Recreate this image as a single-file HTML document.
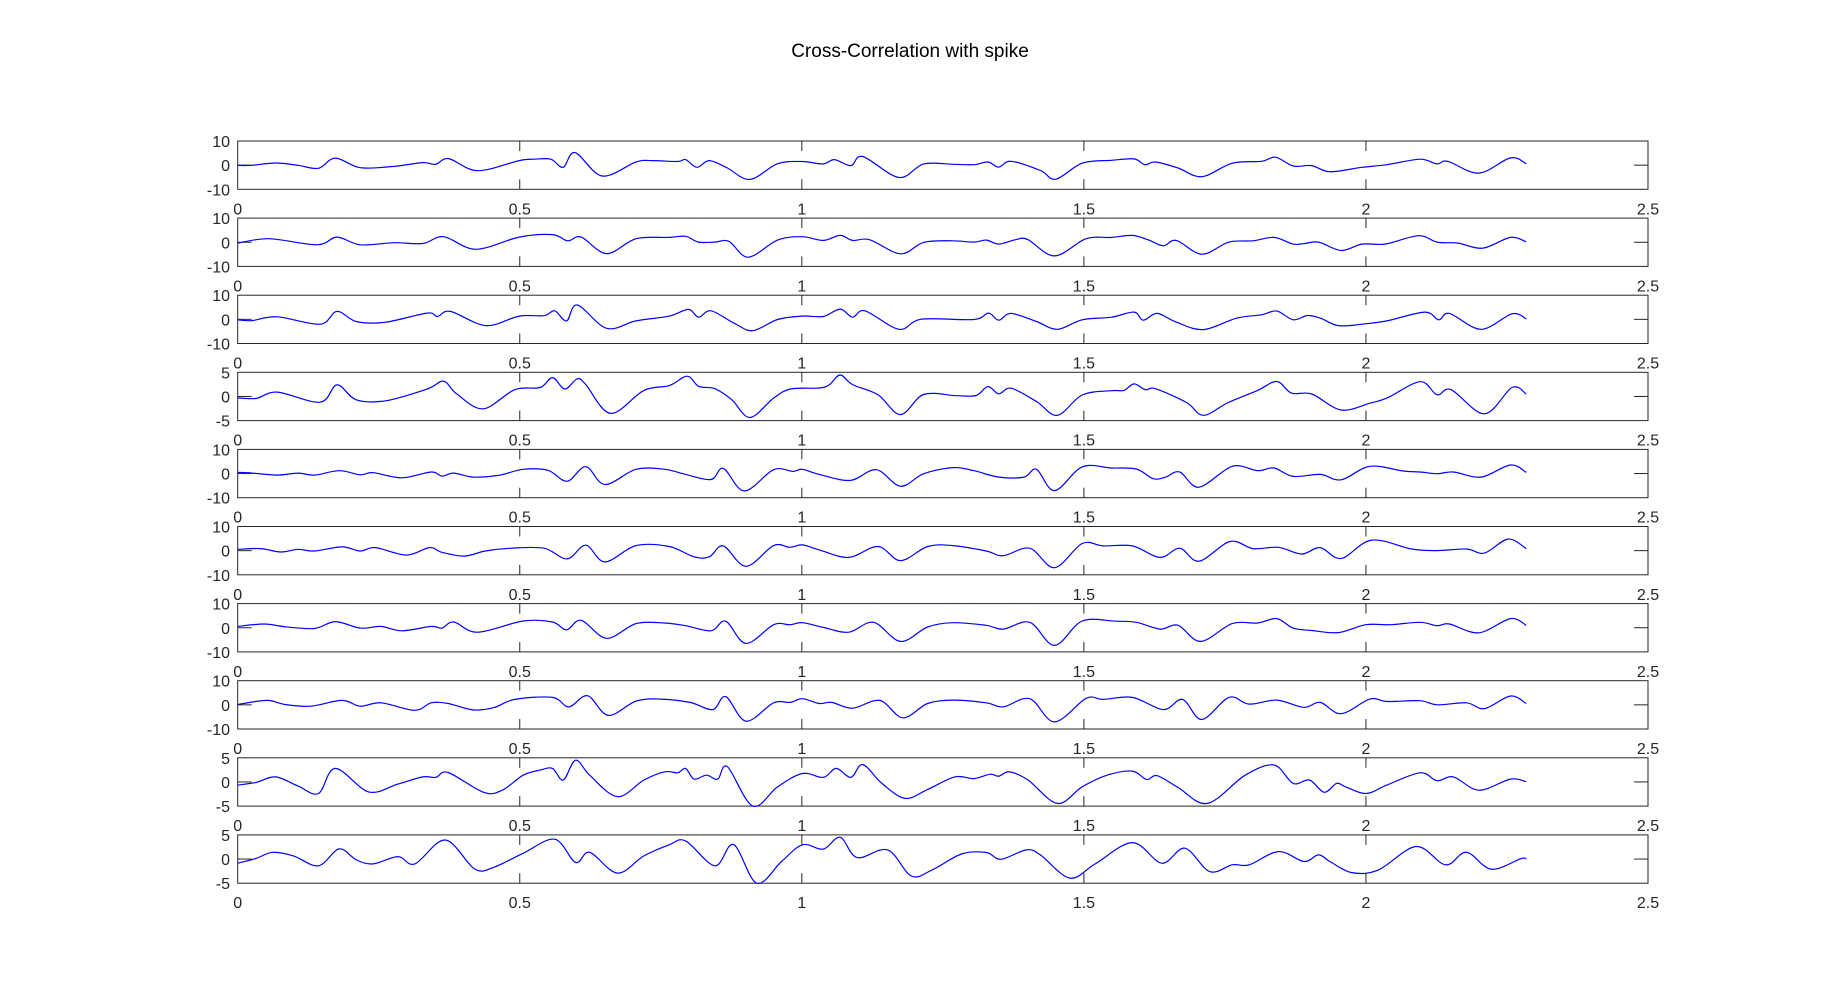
<!DOCTYPE html>
<html><head><meta charset="utf-8"><style>
html,body{margin:0;padding:0;background:#fff;}
svg{display:block;font-family:"Liberation Sans",Arial,sans-serif;}
</style></head><body>
<svg id="chart" width="1822" height="986" viewBox="0 0 1822 986" xmlns="http://www.w3.org/2000/svg">
<rect width="1822" height="986" fill="#fff"/>
<text x="910" y="57" font-size="19" text-anchor="middle" fill="#000">Cross-Correlation with spike</text>
<g id="panels"></g>
</svg>
<script>
const xTicks = [0, 0.5, 1, 1.5, 2, 2.5];
const xTickLabels = ["0", "0.5", "1", "1.5", "2", "2.5"];
const yLimits = [10, 10, 10, 5, 10, 10, 10, 10, 5, 5];

const x1 = [0,.025,.067,.107,.143,.173,.217,.277,.328,.351,.374,.425,.499,.525,.555,.577,.598,.646,.706,.735,.78,.794,.814,.836,.868,.908,.957,1.001,1.038,1.058,1.087,1.108,1.172,1.216,1.268,1.305,1.33,1.349,1.371,1.423,1.45,1.497,1.549,1.589,1.608,1.627,1.667,1.709,1.763,1.815,1.84,1.871,1.904,1.936,1.993,2.037,2.096,2.126,2.145,2.2,2.256,2.284];
const y1 = [-.07,-.07,.9,-.07,-1.3,2.9,-1.05,-.5,1.05,.35,2.7,-2.3,1.9,2.45,2.45,-.9,5.2,-4.5,1.3,1.9,1.5,2.3,-.9,1.9,-1.2,-5.9,.6,1.5,.5,2.3,-.2,3.6,-5.1,.5,.35,.2,1.3,-.8,1.6,-2.2,-5.8,.8,2.0,2.6,.2,1.3,-1.2,-4.8,.8,1.6,3.3,-.35,-.2,-2.7,-.9,.2,2.45,.5,1.6,-3.3,3.0,.6];

const x2 = [0,.055,.141,.176,.217,.277,.328,.365,.422,.499,.558,.585,.609,.654,.706,.765,.794,.817,.846,.871,.905,.957,1.001,1.038,1.068,1.09,1.12,1.175,1.216,1.268,1.305,1.327,1.349,1.379,1.4,1.448,1.504,1.549,1.586,1.615,1.641,1.664,1.709,1.757,1.8,1.837,1.871,1.889,1.916,1.956,1.993,2.034,2.093,2.126,2.163,2.207,2.256,2.284];
const y2 = [-.35,1.45,-1.05,2.15,-1.05,-.2,-.5,2.3,-2.9,2.15,3.15,.6,2.15,-4.7,1.45,2.0,2.45,.05,.05,.35,-6.2,.9,2.3,.75,2.85,.75,1.05,-4.8,-.05,.6,.05,.9,-.75,1.05,1.2,-5.65,1.45,2.0,2.85,.9,-1.45,.75,-4.95,.05,.6,2.0,-.75,-.6,.05,-3.4,-.75,-.75,2.7,.05,-.35,-2.45,2.0,.2];

const x3 = [0,.025,.07,.146,.176,.21,.262,.336,.354,.377,.44,.499,.543,.562,.583,.602,.654,.706,.765,.799,.817,.839,.88,.913,.957,1.001,1.038,1.068,1.09,1.112,1.172,1.212,1.305,1.331,1.349,1.371,1.416,1.453,1.497,1.549,1.589,1.605,1.63,1.664,1.712,1.771,1.815,1.842,1.871,1.896,1.919,1.951,1.993,2.037,2.104,2.129,2.148,2.204,2.259,2.284];
const y3 = [-.2,-.5,1.05,-2.0,3.3,-.9,-1.2,2.6,1.2,3.3,-2.6,1.35,1.5,3.55,-.65,5.95,-3.7,-.65,1.35,4.1,.9,3.55,-1.6,-4.7,-.05,1.35,1.2,4.25,.9,3.55,-4.1,.05,-.05,2.6,-.35,2.45,-.9,-4.1,-.2,.9,3.0,-.35,2.45,-1.2,-4.25,.5,1.9,3.45,-.2,1.6,.5,-2.6,-2.0,-.65,3.0,-.2,2.45,-4.1,2.3,.2];

const x4 = [0,.033,.07,.146,.176,.21,.262,.336,.365,.388,.435,.491,.536,.558,.58,.602,.617,.661,.72,.765,.797,.817,.846,.876,.908,.95,.98,1.031,1.049,1.068,1.09,1.135,1.175,1.216,1.275,1.309,1.33,1.349,1.371,1.416,1.453,1.497,1.549,1.571,1.589,1.609,1.627,1.682,1.712,1.756,1.808,1.842,1.868,1.904,1.956,2.007,2.037,2.096,2.126,2.151,2.21,2.259,2.284];
const y4 = [-.3,-.4,.9,-1.2,2.4,-.7,-.9,1.55,3.15,.55,-2.55,1.4,1.85,3.9,1.55,3.65,2.45,-3.5,1.25,2.25,4.2,2.1,1.6,-.7,-4.35,-.35,1.55,1.75,2.45,4.45,2.45,.35,-3.75,.4,.15,.2,2.05,.55,1.7,-1.05,-3.9,.3,1.2,1.25,2.6,1.4,1.6,-1.25,-3.9,-1.25,1.25,3.1,.7,.5,-2.8,-1.4,-.35,3.05,.35,1.4,-3.6,1.85,.5];

const x5 = [0,.025,.07,.107,.136,.18,.217,.24,.291,.343,.362,.383,.417,.462,.506,.55,.584,.617,.651,.706,.757,.794,.839,.861,.898,.95,.984,1.001,1.031,1.086,1.132,1.175,1.216,1.268,1.305,1.349,1.394,1.416,1.448,1.497,1.549,1.593,1.623,1.645,1.67,1.704,1.763,1.808,1.837,1.871,1.919,1.956,2.007,2.066,2.096,2.126,2.155,2.204,2.256,2.284];
const y5 = [.5,.2,-.65,.2,-.65,1.2,-.5,.35,-1.75,.65,-1.05,.2,-1.45,-.75,1.75,1.35,-3.15,2.85,-4.55,1.75,1.75,-.35,-2.45,2.15,-7.2,1.6,.9,1.75,-.35,-2.85,1.6,-5.25,-.05,2.45,1.2,-1.45,-1.45,1.75,-7.05,2.75,2.3,1.9,-2.15,-1.45,.65,-5.65,3.0,1.2,2.3,-1.2,-.35,-2.6,3.0,1.05,.65,-.05,.65,-1.45,3.55,.5];

const x6 = [0,.04,.077,.107,.136,.185,.217,.244,.299,.34,.362,.402,.439,.484,.543,.584,.617,.651,.706,.765,.809,.836,.861,.901,.95,.979,1.001,1.031,1.083,1.135,1.175,1.223,1.268,1.327,1.357,1.404,1.448,1.497,1.534,1.586,1.635,1.67,1.704,1.759,1.8,1.845,1.886,1.919,1.956,2.01,2.081,2.126,2.178,2.21,2.252,2.284];
const y6 = [.55,.85,-.55,.55,-.15,1.55,-.15,1.25,-1.85,1.25,-.7,-2.25,-.15,1.0,1.0,-3.4,2.25,-4.65,2.1,1.7,-2.55,-2.55,1.95,-6.5,2.1,1.4,2.4,.3,-2.8,1.7,-4.1,1.7,2.1,-.15,-2.1,1.0,-7.05,2.95,1.95,1.95,-2.8,1.0,-4.35,3.8,.85,1.4,-1.4,1.25,-3.25,4.35,.7,0,.7,-1.0,4.8,.85];

const x7 = [0,.047,.084,.136,.173,.217,.254,.291,.343,.362,.383,.425,.506,.558,.583,.609,.654,.706,.757,.794,.839,.865,.901,.95,.979,1.001,1.038,1.083,1.127,1.175,1.223,1.268,1.327,1.357,1.404,1.448,1.497,1.556,1.593,1.635,1.667,1.707,1.763,1.808,1.842,1.871,1.904,1.951,2.0,2.044,2.096,2.126,2.148,2.2,2.256,2.284];
const y7 = [.55,1.55,.4,-.3,2.55,-.15,.55,-1.25,.55,-.15,2.4,-1.85,2.8,2.4,-.85,3.1,-4.35,1.7,1.95,.85,-1.25,2.7,-6.5,1.25,1.25,2.1,.15,-1.85,2.25,-5.65,.3,2.1,1.0,-.55,2.25,-7.3,2.8,2.7,2.25,-.55,1.0,-5.65,1.7,1.95,3.8,-.15,-1.15,-2.0,1.25,1.25,2.25,.85,1.55,-2.1,3.8,1.0];

const x8 = [0,.025,.055,.084,.129,.185,.217,.254,.314,.343,.373,.417,.454,.491,.558,.587,.62,.657,.706,.75,.802,.842,.865,.901,.95,.979,1.001,1.031,1.053,1.09,1.138,1.179,1.223,1.268,1.327,1.357,1.404,1.448,1.504,1.534,1.586,1.641,1.675,1.709,1.757,1.793,1.842,1.89,1.919,1.956,2.007,2.037,2.096,2.126,2.178,2.21,2.256,2.284];
const y8 = [.15,1.15,1.85,.15,-.55,1.85,-.55,.85,-2.25,.85,.55,-2.1,-1.15,2.25,3.1,-.85,3.8,-4.35,1.55,2.4,1.0,-1.95,3.4,-6.75,.85,1.0,2.55,.55,1.0,-1.4,1.85,-5.35,.55,1.95,.85,-.85,2.55,-7.05,2.7,2.25,3.1,-1.95,2.25,-6.05,3.1,.3,1.95,-1.0,1.0,-3.65,2.4,1.4,1.7,0,.85,-1.55,3.65,.55];

const x9 = [0,.033,.067,.107,.143,.173,.232,.284,.328,.351,.373,.436,.469,.506,.536,.558,.577,.599,.624,.673,.72,.757,.78,.794,.809,.831,.851,.868,.913,.957,1.001,1.038,1.061,1.087,1.108,1.142,1.183,1.223,1.271,1.305,1.334,1.349,1.368,1.401,1.453,1.497,1.541,1.586,1.611,1.63,1.667,1.719,1.786,1.837,1.871,1.9,1.926,1.948,1.964,2.0,2.037,2.096,2.126,2.155,2.2,2.256,2.284];
const y9 = [-.65,-.1,1.05,-.85,-2.4,2.8,-2.05,-.45,1.05,.95,1.95,-2.15,-1.7,1.4,2.45,2.8,.4,4.5,1.4,-3.05,.4,2.1,1.9,2.8,.6,1.4,.6,3.15,-5.0,-1.0,1.75,.95,2.8,.95,3.6,-.3,-3.4,-1.55,1.05,.7,1.6,1.2,2.1,.4,-4.45,-1.0,1.4,2.25,.5,1.3,-1.15,-4.45,1.4,3.5,-.3,.4,-2.15,-.3,-1.0,-2.4,-.65,1.9,.25,1.05,-1.7,.6,.05];

const x10 = [0,.033,.062,.099,.143,.18,.21,.24,.284,.314,.368,.42,.454,.506,.562,.599,.624,.673,.72,.765,.794,.846,.879,.92,.964,1.001,1.038,1.068,1.098,1.152,1.194,1.231,1.283,1.327,1.353,1.398,1.423,1.475,1.52,1.586,1.638,1.679,1.723,1.763,1.793,1.845,1.89,1.916,1.936,1.975,2.022,2.089,2.141,2.178,2.222,2.274,2.284];
const y10 = [-.85,.15,1.4,.65,-1.4,2.1,-.15,-1.0,.5,-1.0,3.95,-2.05,-1.7,1.2,4.1,-.7,1.4,-2.9,.65,2.95,3.75,-1.4,3.0,-5.0,-.5,2.95,2.05,4.5,.3,1.9,-3.5,-2.25,1.05,1.35,-.05,1.9,.85,-3.95,-1.0,3.4,-.85,2.25,-2.6,-1.2,-1.2,1.55,-.5,.85,-.5,-2.8,-2.25,2.6,-1.2,1.4,-2.1,.05,.05];

const seriesX = [x1,x2,x3,x4,x5,x6,x7,x8,x9,x10];
const seriesY = [y1,y2,y3,y4,y5,y6,y7,y8,y9,y10];

const NS = "http://www.w3.org/2000/svg";
const L = 237.7, R = 1648, H = 48.3, TOP0 = 141, STEP = 77.1, XMAX = 2.5;
const g = document.getElementById('panels');
function mk(tag, attrs){ const e=document.createElementNS(NS,tag); for(const k in attrs) e.setAttribute(k,attrs[k]); return e; }
function xs(v){ return L + (v/XMAX)*(R-L); }
function smoothPath(P){
  let d = 'M' + P[0][0].toFixed(1) + ' ' + P[0][1].toFixed(1);
  for (let j=0;j<P.length-1;j++){
    const p0 = P[Math.max(j-1,0)], p1 = P[j], p2 = P[j+1], p3 = P[Math.min(j+2,P.length-1)];
    const c1x = p1[0] + (p2[0]-p0[0])/6, c1y = p1[1] + (p2[1]-p0[1])/6;
    const c2x = p2[0] - (p3[0]-p1[0])/6, c2y = p2[1] - (p3[1]-p1[1])/6;
    d += 'C' + c1x.toFixed(1)+' '+c1y.toFixed(1)+' '+c2x.toFixed(1)+' '+c2y.toFixed(1)+' '+p2[0].toFixed(1)+' '+p2[1].toFixed(1);
  }
  return d;
}

for (let i=0;i<10;i++){
  const top = TOP0 + i*STEP, bot = top + H, lim = yLimits[i];
  const ys = v => top + (lim - v)/(2*lim)*H;
  const pg = mk('g',{});
  
  
  g.appendChild(pg);
  const box = mk('rect',{x:L,y:top,width:R-L,height:H,fill:'none',stroke:'#262626','stroke-width':1});
  
  
  pg.appendChild(box);
  xTicks.forEach((t,k)=>{
    const x = xs(t);
    if (k>0 && k<xTicks.length-1){
      const t1 = mk('line',{x1:x,x2:x,y1:top,y2:top+10,stroke:'#262626','stroke-width':1});
      
      
      pg.appendChild(t1);
      const t2 = mk('line',{x1:x,x2:x,y1:bot-10,y2:bot,stroke:'#262626','stroke-width':1});
      
      
      pg.appendChild(t2);
    }
    const lb = mk('text',{x:x,y:bot+25,'font-size':16,'text-anchor':'middle',fill:'#262626'});
    
    
    lb.textContent = xTickLabels[k];
    pg.appendChild(lb);
  });
  const y0 = ys(0);
  [[L,L+14],[R-14,R]].forEach(p=>{
    const yt = mk('line',{x1:p[0],x2:p[1],y1:y0,y2:y0,stroke:'#262626','stroke-width':1});
    
    
    pg.appendChild(yt);
  });
  [lim,0,-lim].forEach(v=>{
    const lb = mk('text',{x:230,y:ys(v)+6,'font-size':16,'text-anchor':'end',fill:'#262626'});
    
    
    lb.textContent = String(v);
    pg.appendChild(lb);
  });
  const X = seriesX[i], Y = seriesY[i];
  const pts = X.map((xv,j)=>[xs(xv), ys(Y[j])]);
  const path = mk('path',{d:smoothPath(pts),fill:'none',stroke:'#0000ff','stroke-width':1.2,'stroke-linejoin':'round'});
  
  
  pg.appendChild(path);
}
</script>
</body></html>
